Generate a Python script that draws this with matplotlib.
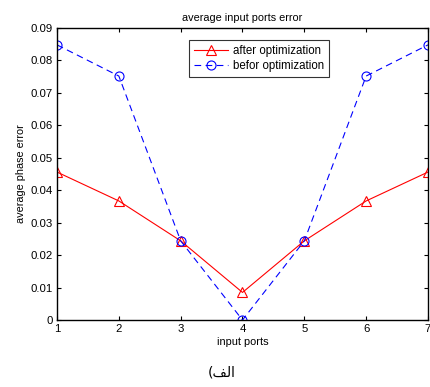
import matplotlib
matplotlib.use("Agg")
import matplotlib.pyplot as plt

plt.rcParams['font.family'] = ['Liberation Sans', 'DejaVu Sans']

ports = [1, 2, 3, 4, 5, 6, 7]
after_opt = [0.0456, 0.0367, 0.0244, 0.0085, 0.0244, 0.0367, 0.0456]
before_opt = [0.0848, 0.0752, 0.0244, 0.0, 0.0244, 0.0752, 0.0848]
yticks = [0, 0.01, 0.02, 0.03, 0.04, 0.05, 0.06, 0.07, 0.08, 0.09]
ytick_labels = ['0', '0.01', '0.02', '0.03', '0.04', '0.05', '0.06', '0.07', '0.08', '0.09']

fig = plt.figure(figsize=(4.3, 3.87), dpi=100)
ax = fig.add_axes([0.1326, 0.1731, 0.8627, 0.7545])

ax.plot(ports, after_opt, color='red', linestyle='-', linewidth=0.8, marker='^',
        markersize=6.5, markerfacecolor='none', markeredgecolor='red', markeredgewidth=0.8,
        label='after optimization')
ax.plot(ports, before_opt, color='blue', linestyle=(0, (6, 4)), linewidth=0.8, marker='o',
        markersize=6.5, markerfacecolor='none', markeredgecolor='blue', markeredgewidth=0.8,
        label='befor optimization')

ax.set_xlim(1, 7)
ax.set_ylim(0, 0.09)
ax.set_xticks(ports)
ax.set_xticklabels([str(p) for p in ports])
ax.set_yticks(yticks)
ax.set_yticklabels(ytick_labels)
ax.tick_params(direction='in', top=True, right=True, labelsize=8.2, length=3, width=0.8, pad=3)
for s in ax.spines.values():
    s.set_linewidth(1.0)

ax.set_title('average input ports error', fontsize=7.8, pad=5)
ax.set_xlabel('input ports', fontsize=7.9, labelpad=2)
ax.set_ylabel('average phase error', fontsize=7.8, labelpad=3)

leg = ax.legend(loc='upper center', bbox_to_anchor=(0.544, 0.978), fontsize=8.3,
                frameon=True, fancybox=False, edgecolor='black', handlelength=3,
                borderpad=0.4, labelspacing=0.3, handletextpad=0.4)
leg.get_frame().set_linewidth(0.8)

fig.text(0.516, 0.038, '(\uFED2\uFEDF\uFE8D', fontsize=10, ha='center', va='center',
         family=['DejaVu Sans'])

fig.savefig('out.png', dpi=100)
